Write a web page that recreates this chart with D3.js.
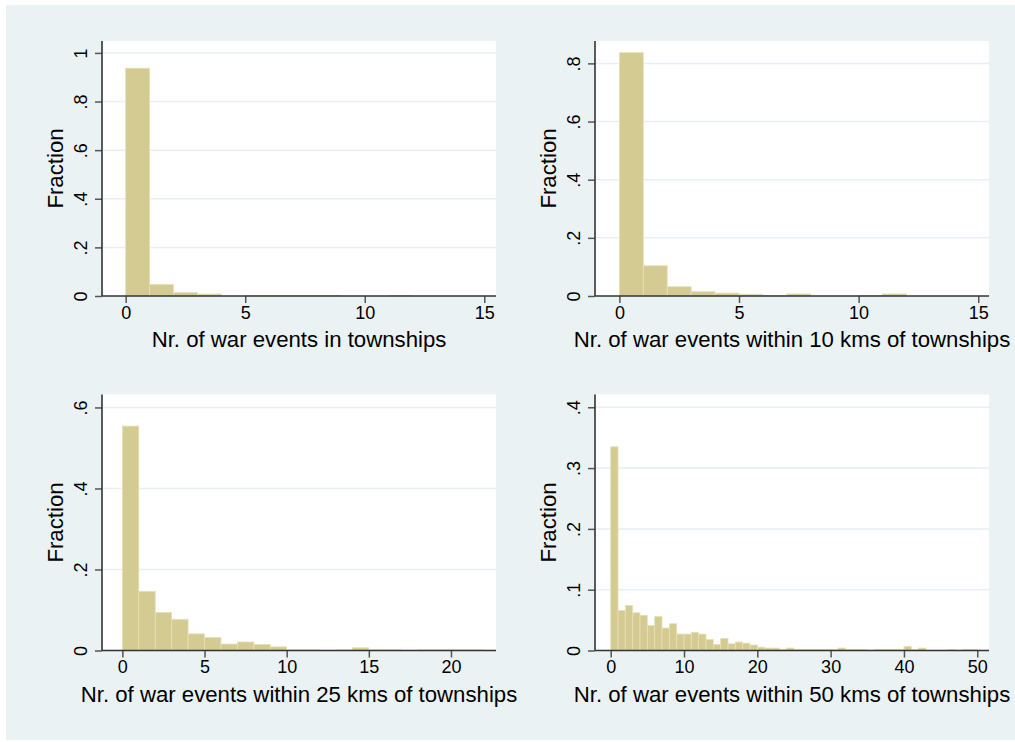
<!DOCTYPE html>
<html>
<head>
<meta charset="utf-8">
<script src="https://cdn.jsdelivr.net/npm/d3@7"></script>
<style>
  html, body { margin: 0; padding: 0; background: #ffffff; }
  svg { display: block; }
  text { font-family: "Liberation Sans", Arial, Helvetica, sans-serif; fill: #000; }
</style>
</head>
<body>
<svg id="chart" width="1015" height="742"></svg>
<script>
// ---------- data (bin width 1, bins start at 0) ----------
const titles = [
  "Nr. of war events in townships",
  "Nr. of war events within 10 kms of townships",
  "Nr. of war events within 25 kms of townships",
  "Nr. of war events within 50 kms of townships"
];
const yAxisTitle = "Fraction";

const townships = [0.937, 0.048, 0.014, 0.008, 0, 0.002, 0.002, 0.002, 0.002, 0, 0, 0.002];
const within10 = [0.837, 0.104, 0.032, 0.015, 0.010, 0.006, 0.002, 0.007, 0, 0, 0.002, 0.007];
const within25 = [0.554, 0.146, 0.094, 0.077, 0.041, 0.032, 0.016, 0.021, 0.015, 0.009,
                  0.0015, 0.0015, 0, 0.0015, 0.0066, 0.0015, 0.0015, 0, 0.0015, 0.0015, 0.0015, 0.0015];
const within50 = [0.335, 0.066, 0.074, 0.062, 0.058, 0.041, 0.056, 0.037, 0.044, 0.027,
                  0.027, 0.030, 0.027, 0.018, 0.010, 0.020, 0.011, 0.014, 0.012, 0.009,
                  0.0055, 0.004, 0.004, 0.002, 0.004, 0.002, 0.0015, 0.0015, 0.0015, 0.0015,
                  0.0015, 0.004, 0.0015, 0.0015, 0.0015, 0, 0.0015, 0.0015, 0.0015, 0.0015,
                  0.0066, 0.0015, 0.004, 0, 0, 0, 0.0015, 0, 0.0015, 0.0015];

const xTicks1 = [0, 5, 10, 15];
const xTicks2 = [0, 5, 10, 15];
const xTicks3 = [0, 5, 10, 15, 20];
const xTicks4 = [0, 10, 20, 30, 40, 50];

const yTicks1 = [0, 0.2, 0.4, 0.6, 0.8, 1];
const yTicks2 = [0, 0.2, 0.4, 0.6, 0.8];
const yTicks3 = [0, 0.2, 0.4, 0.6];
const yTicks4 = [0, 0.1, 0.2, 0.3, 0.4];
const yLabels1 = ["0", ".2", ".4", ".6", ".8", "1"];
const yLabels2 = ["0", ".2", ".4", ".6", ".8"];
const yLabels3 = ["0", ".2", ".4", ".6"];
const yLabels4 = ["0", ".1", ".2", ".3", ".4"];

// ---------- layout ----------
const svg = d3.select("#chart");
const BG = "#eaf2f3";
const BAR = "#d4cb93";
const BAR_EDGE = "#e7e0b8";
const GRID = "#e6eff1";
const TICK_FS = 18;
const TITLE_FS = 22.2;

svg.append("rect").attr("x", 6).attr("y", 5).attr("width", 1009).attr("height", 735).attr("fill", BG);

const panels = [
  { vals: townships, title: titles[0], xt: xTicks1, yt: yTicks1, yl: yLabels1,
    box: { l: 102, r: 496, t: 41, b: 296 }, xd: [-0.99, 15.49], yMax: 1.049 },
  { vals: within10, title: titles[1], xt: xTicks2, yt: yTicks2, yl: yLabels2,
    box: { l: 595, r: 989, t: 41, b: 296 }, xd: [-1.02, 15.45], yMax: 0.877 },
  { vals: within25, title: titles[2], xt: xTicks3, yt: yTicks3, yl: yLabels3,
    box: { l: 102, r: 496, t: 394.5, b: 650.5 }, xd: [-1.24, 22.74], yMax: 0.632 },
  { vals: within50, title: titles[3], xt: xTicks4, yt: yTicks4, yl: yLabels4,
    box: { l: 595, r: 989, t: 394.5, b: 650.5 }, xd: [-2.14, 51.6], yMax: 0.421 }
];

panels.forEach(p => {
  const B = p.box;
  const g = svg.append("g");
  const x = d3.scaleLinear().domain(p.xd).range([B.l, B.r]);
  const y = d3.scaleLinear().domain([0, p.yMax]).range([B.b, B.t]);

  // plot region
  g.append("rect").attr("x", B.l).attr("y", B.t).attr("width", B.r - B.l).attr("height", B.b - B.t)
    .attr("fill", "#ffffff");

  // gridlines
  g.selectAll("line.grid").data(p.yt.filter(v => v > 0)).enter().append("line")
    .attr("x1", B.l).attr("x2", B.r)
    .attr("y1", d => y(d)).attr("y2", d => y(d))
    .attr("stroke", GRID).attr("stroke-width", 1.5);

  // bars
  const bins = p.vals.map((v, i) => ({ x0: i, x1: i + 1, v }));
  g.selectAll("rect.bar").data(bins.filter(d => d.v > 0)).enter().append("rect")
    .attr("x", d => x(d.x0))
    .attr("width", d => x(d.x1) - x(d.x0))
    .attr("y", d => y(d.v))
    .attr("height", d => y(0) - y(d.v))
    .attr("fill", BAR)
    .attr("stroke", BAR_EDGE).attr("stroke-width", 0.8);

  // x axis
  const xa = g.append("g").attr("transform", `translate(0,${B.b})`)
    .call(d3.axisBottom(x).tickValues(p.xt).tickFormat(d3.format("d")).tickSize(7).tickPadding(3));
  xa.select(".domain").remove();
  xa.selectAll(".tick line").attr("stroke", "#555").attr("stroke-width", 1.5);
  xa.selectAll(".tick text").attr("font-size", TICK_FS).attr("fill", "#000")
    .attr("font-family", "Liberation Sans, Arial, sans-serif");
  g.append("line").attr("x1", B.l).attr("x2", B.r).attr("y1", B.b).attr("y2", B.b)
    .attr("stroke", "#333").attr("stroke-width", 1.6);

  // y axis
  const ya = g.append("g").attr("transform", `translate(${B.l},0)`)
    .call(d3.axisLeft(y).tickValues(p.yt).tickFormat((d, i) => p.yl[i]).tickSize(7).tickPadding(0));
  ya.select(".domain").remove();
  ya.selectAll(".tick line").attr("stroke", "#555").attr("stroke-width", 1.5);
  ya.selectAll(".tick text")
    .attr("font-size", TICK_FS).attr("fill", "#000")
    .attr("font-family", "Liberation Sans, Arial, sans-serif")
    .attr("x", null).attr("dy", null)
    .attr("text-anchor", "middle")
    .attr("transform", "translate(-15,0) rotate(-90)")
    .attr("y", 0);
  g.append("line").attr("x1", B.l).attr("x2", B.l).attr("y1", B.t).attr("y2", B.b)
    .attr("stroke", "#333").attr("stroke-width", 1.6);

  // axis titles
  g.append("text").attr("x", (B.l + B.r) / 2).attr("y", B.b + 51)
    .attr("text-anchor", "middle").attr("font-size", TITLE_FS).text(p.title);
  g.append("text")
    .attr("transform", `translate(${B.l - 39},${(B.t + B.b) / 2}) rotate(-90)`)
    .attr("text-anchor", "middle").attr("font-size", TITLE_FS).text(yAxisTitle);
});
</script>
</body>
</html>
